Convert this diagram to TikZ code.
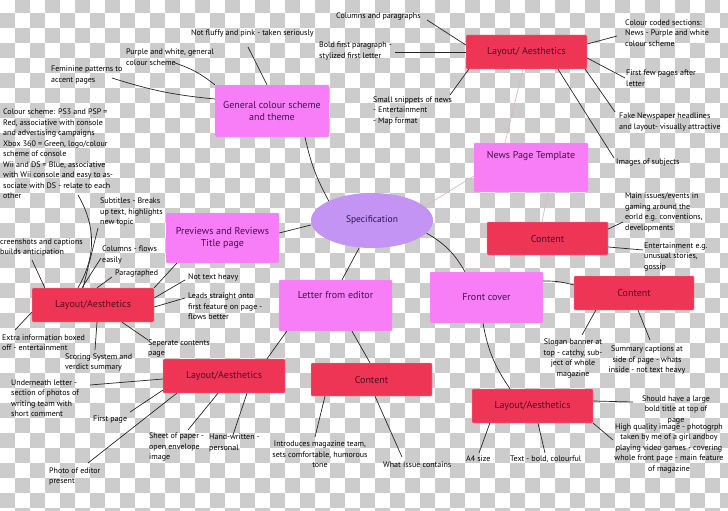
\documentclass[tikz,border=0pt]{standalone}
\usepackage{fontspec}
\setmainfont{PT Sans}
\usetikzlibrary{shapes.geometric}

\definecolor{chk}{HTML}{CCCCCC}
\definecolor{magfill}{HTML}{F77EF7}
\definecolor{redfill}{HTML}{EE3556}
\definecolor{specfill}{HTML}{C494F5}
\definecolor{magtext}{HTML}{4A0D4F}
\definecolor{redtext}{HTML}{5A0B22}
\definecolor{spectext}{HTML}{2C1450}
\definecolor{faintline}{HTML}{D9B8C8}

\begin{document}
\begin{tikzpicture}[
x=1pt, y=-1pt,
every node/.style={font=\fontsize{8}{10.5}\selectfont},
box/.style={
rounded corners=1pt,
align=center,
font=\fontsize{10}{12.5}\selectfont
},
magbox/.style={box, fill=magfill, draw=magfill!70!white, text=magtext,
minimum width=113pt, minimum height=50pt},
redbox/.style={box, fill=redfill, draw=redfill!55!white, text=redtext,
minimum width=121pt, minimum height=34pt},
note/.style={align=left, inner sep=0pt, anchor=west},
cnote/.style={align=center, inner sep=0pt},
link/.style={line width=0.7pt, black!85},
faint/.style={line width=0.7pt, faintline}
]

% Checkered background
\begin{scope}
\clip (0,0) rectangle (728,511);
\fill[white] (0,0) rectangle (728,511);
\foreach \j in {0,2,...,34}
  \foreach \i in {1,3,...,49}
    \fill[chk] (15*\i,15*\j-2.3) rectangle ++(15,15);
\foreach \j in {1,3,...,33}
  \foreach \i in {0,2,...,48}
    \fill[chk] (15*\i,15*\j-2.3) rectangle ++(15,15);
\end{scope}
\useasboundingbox (0,0) rectangle (728,511);

% Centre
\node[ellipse, fill=specfill, text=spectext, minimum width=122pt,
minimum height=55pt, font=\fontsize{9.5}{12}\selectfont]
(spec) at (372,220.5) {Specification};

% Main topics
\node[magbox, minimum width=114pt, minimum height=52pt] (gen) at (272,111)
{General colour scheme\\and theme};
\node[magbox, minimum width=114pt, minimum height=49pt,
text height=7pt, text depth=25pt] (news) at (531,167.5) {News Page Template};
\node[magbox] (prev) at (222.5,238) {Previews and Reviews\\Title page};
\node[magbox, minimum height=51pt, text height=7pt, text depth=21pt]
(letter) at (335.5,305.5) {Letter from editor};
\node[magbox, minimum height=51pt] (front) at (486.5,297.5) {Front cover};

% Sub topics
\node[redbox] (laytop) at (526.5,52) {Layout/ Aesthetics};
\node[redbox, minimum height=33pt] (cright) at (547.5,238.5) {Content};
\node[redbox, minimum width=120pt] (cfar) at (634,293) {Content};
\node[redbox] (laybr) at (532.5,406) {Layout/Aesthetics};
\node[redbox, minimum height=33pt] (cbot) at (371.5,379.5) {Content};
\node[redbox, minimum width=122pt] (laybl) at (224,376) {Layout/Aesthetics};
\node[redbox, minimum width=122pt] (layl) at (93,305) {Layout/Aesthetics};

% Notes: colour scheme
\node[note] (notfluffy) at (191,33) {Not fluffy and pink - taken seriously};
\node[note] (purple) at (126,57) {Purple and white, general\\colour scheme};
\node[note] (feminine) at (51,75) {Feminine patterns to\\accent pages};

% Notes: previews and reviews
\node[note] (colsch) at (3,154) {Colour scheme: PS3 and PSP =\\
Red, associative with console\\and advertising campaigns\\
Xbox 360 = Green, logo/colour\\scheme of console\\
Wii and DS = Blue, associative\\with Wii console and easy to as-\\
sociate with DS - relate to each\\other};
\node[note] (subtitles) at (100,212) {Subtitles - Breaks\\up text, highlights\\new topic};
\node[note] (screenshots) at (0,247.5) {creenshots and captions\\builds anticipation};
\node[note] (columns) at (102,255) {Columns - flows\\easily};
\node[note] (paragraphed) at (115,274) {Paragraphed};
\node[note] (nottext) at (188,277) {Not text heavy};
\node[note] (leads) at (188,306.5) {Leads straight onto\\first feature on page -\\flows better};
\node[note] (extra) at (2,342.5) {Extra information boxed\\off - entertainment};
\node[note] (scoring) at (65,362.5) {Scoring System and\\verdict summary};
\node[note] (seperate) at (148,348.5) {Seperate contents\\page};

% Notes: letter from editor
\node[note] (underneath) at (11,398) {Underneath letter -\\section of photos of\\writing team with\\short comment};
\node[note] (firstpage) at (93,420) {First page};
\node[note] (photo) at (49,476.5) {Photo of editor\\present};
\node[note] (sheet) at (149,447) {Sheet of paper -\\open envelope\\image};
\node[note] (hand) at (209,443) {Hand-written -\\personal};
\node[cnote] (introduces) at (320,454.5) {Introduces magazine team,\\sets comfortable, humorous\\tone};
\node[note] (whatissue) at (383,465) {What Issue contains};

% Notes: front cover
\node[note] (a4) at (466,459) {A4 size};
\node[note] (textbold) at (510,459) {Text - bold, colourful};
\node[cnote] (should) at (676,409.5) {Should have a large\\bold title at top of\\page};
\node[cnote] (highq) at (669,448.5) {High quality image - photogrph\\taken by me of a girl andboy\\
playing video games - covering\\whole front page - main feature\\of magazine};
\node[cnote] (slogan) at (573,358.5) {Slogan banner at\\top - catchy, sub-\\ject of whole\\magazine};
\node[cnote] (summary) at (647,360) {Summary captions at\\side of page - whats\\inside - not text heavy};

% Notes: news page
\node[note] (mainissues) at (625,212.5) {Main issues/events in\\gaming around the\\eorld e.g. conventions,\\developments};
\node[note] (entertain) at (644,257) {Entertainment e.g.\\unusual stories,\\gossip};
\node[note] (colpara) at (336,17) {Columns and paragraphs};
\node[note] (boldfirst) at (319,51) {Bold first paragraph -\\stylized first letter};
\node[note] (snippets) at (373,110.5) {Small snippets of news\\- Entertainment\\- Map format};
\node[note] (colcoded) at (625,33) {Colour coded sections:\\News - Purple and white\\colour scheme};
\node[note] (firstfew) at (626,78) {First few pages after\\letter};
\node[note] (fakenews) at (619,122) {Fake Newspaper headlines\\and layout- visually attractive};
\node[note] (images) at (616,163) {Images of subjects};

% Main links
\draw[link] (spec.north west) to[bend left=8] ([xshift=33pt]gen.south);
\draw[link] ([yshift=-4.5pt]spec.west) -- ([yshift=5pt]prev.east);
\draw[link] ([xshift=-13pt]spec.south) -- ([xshift=6.5pt]letter.north);
\draw[link] (spec.-13) to[bend left=15] ([xshift=-21.5pt]front.north);
\draw[faint] (spec.15) -- ([yshift=-8.5pt]news.west);
\draw[faint] ([xshift=-26pt]news.north) -- ([xshift=-3.5pt]laytop.south);
\draw[faint] ([xshift=17pt]news.south) -- ([xshift=-5.5pt]cright.north);
\draw[link] ([yshift=16.5pt]front.east) to[bend left=8] ([yshift=8pt]cfar.west);
\draw[link] ([xshift=-3.5pt]front.south) to[bend right=12] ([xshift=-22.5pt]laybr.north);
\draw[link] ([xshift=16.5pt]letter.south) -- ([xshift=-1.5pt]cbot.north);
\draw[link] ([xshift=8pt]letter.south west) -- ([xshift=43pt]laybl.north);
\draw[link] ([xshift=11pt]prev.south west) -- (layl.north east);

% Note links
\draw[link] ([shift={(57pt,-14pt)}]notfluffy.west) -- ([xshift=-5pt]gen.north);
\draw[link] ([shift={(49pt,-6pt)}]purple.west) to[bend left=10] (gen.north west);
\draw[link] ([shift={(61pt,-3pt)}]feminine.west) to[bend right=6] ([yshift=12pt]gen.west);
\draw[link] ([shift={(75pt,-41pt)}]colsch.west) to[bend left=30] ([xshift=-15pt]layl.north);
\draw[link] ([shift={(-2pt,-16pt)}]subtitles.west) -- ([xshift=-10pt]layl.north);
\draw[link] ([shift={(32pt,-12.5pt)}]screenshots.west) -- ([xshift=13pt]layl.north west);
\draw[link] ([shift={(-1pt,-3pt)}]columns.west) -- ([xshift=-11pt]layl.north);
\draw[link] ([shift={(-3pt,-3pt)}]paragraphed.west) -- ([xshift=4pt]layl.north);
\draw[link] ([shift={(-3pt,-3pt)}]nottext.west) -- ([yshift=7pt]layl.east);
\draw[link] ([shift={(-3pt,8.5pt)}]leads.west) -- ([yshift=-2pt]layl.east);
\draw[link] ([shift={(13pt,12.5pt)}]extra.west) -- ([yshift=10pt]layl.south west);
\draw[link] ([shift={(30pt,12.5pt)}]scoring.west) -- ([xshift=4pt]layl.south);
\draw[link] ([shift={(0pt,8.5pt)}]seperate.west) -- ([xshift=29pt]layl.south);
\draw[link] ([shift={(79pt,13pt)}]underneath.west) -- ([yshift=-3pt]laybl.west);
\draw[link] ([shift={(37pt,8pt)}]firstpage.west) -- ([yshift=3pt]laybl.south west);
\draw[link] ([shift={(39pt,13.5pt)}]photo.west) -- ([xshift=14pt]laybl.south west);
\draw[link] ([shift={(39pt,17pt)}]sheet.west) -- ([xshift=-6pt]laybl.south);
\draw[link] ([shift={(24pt,8pt)}]hand.west) -- ([xshift=23pt]laybl.south);
\draw[link] ([shift={(-5pt,17.5pt)}]introduces.center) -- ([xshift=-46.5pt]cbot.south);
\draw[link] ([shift={(19pt,8pt)}]whatissue.west) -- ([xshift=3.5pt]cbot.south);
\draw[link] ([shift={(13pt,6pt)}]a4.west) -- ([xshift=18pt]laybr.south west);
\draw[link] ([shift={(35pt,6pt)}]textbold.west) -- ([xshift=5.5pt]laybr.south);
\draw[link] ([shift={(-43pt,7.5pt)}]should.center) -- ([yshift=5pt]laybr.east);
\draw[link] ([shift={(-56pt,8.5pt)}]highq.center) -- (laybr.south east);
\draw[link] ([shift={(9pt,23.5pt)}]slogan.center) -- ([xshift=22pt]cfar.south west);
\draw[link] ([shift={(3pt,20pt)}]summary.center) -- ([xshift=4pt]cfar.south);
\draw[link] ([shift={(-2pt,-9.5pt)}]mainissues.west) -- ([yshift=9.5pt]cright.east);
\draw[link] ([shift={(-1pt,7pt)}]entertain.west) -- ([yshift=-8.5pt]cright.east);
\draw[link] ([shift={(91pt,-3pt)}]colpara.west) -- ([yshift=7pt]laytop.west);
\draw[link] ([shift={(76pt,-1pt)}]boldfirst.west) -- (laytop.west);
\draw[link] ([shift={(77pt,15.5pt)}]snippets.west) -- ([xshift=3pt]laytop.south west);
\draw[link] ([shift={(-8pt,-3pt)}]colcoded.west) -- ([yshift=8pt]laytop.east);
\draw[link] ([shift={(-1pt,0pt)}]firstfew.west) -- ([yshift=-6pt]laytop.east);
\draw[link] ([shift={(-4pt,10pt)}]fakenews.west) -- ([xshift=-2pt]laytop.south east);
\draw[link] ([shift={(-2pt,5pt)}]images.west) -- ([xshift=31.5pt]laytop.south);

\end{tikzpicture}
\end{document}
